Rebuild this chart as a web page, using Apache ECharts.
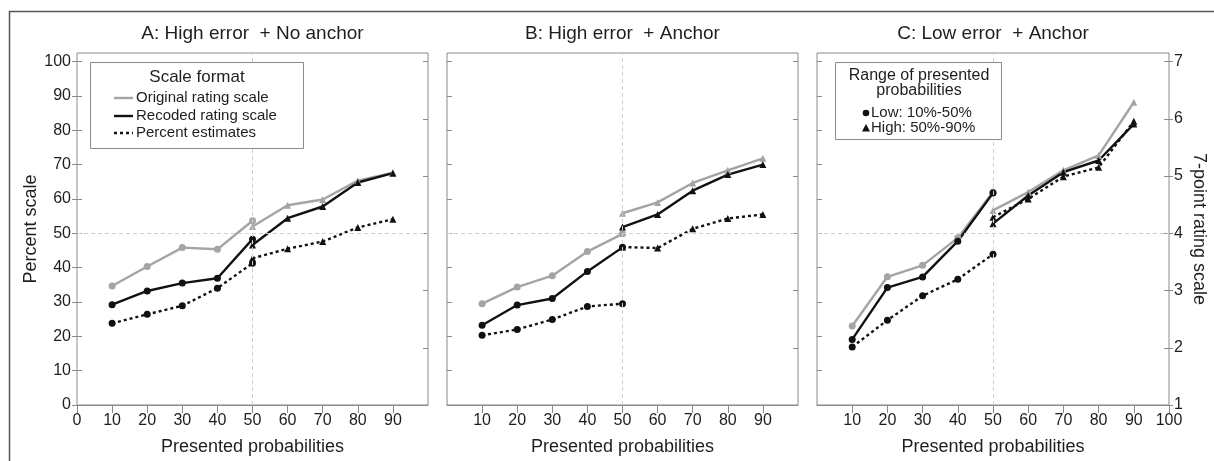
<!DOCTYPE html>
<html>
<head>
<meta charset="utf-8">
<script src="https://cdn.jsdelivr.net/npm/echarts@6/dist/echarts.min.js"></script>
<style>
  html, body { margin: 0; padding: 0; background: #fff; }
  #chart { width: 1214px; height: 461px; }
</style>
</head>
<body>
<div id="chart"></div>
<script>
// ---- data ----------------------------------------------------------------
const panelTitles = ['A: High error  + No anchor', 'B: High error  + Anchor', 'C: Low error  + Anchor'];
const probsLow = [10, 20, 30, 40, 50];
const probsHigh = [50, 60, 70, 80, 90];

const percentTicks = [0, 10, 20, 30, 40, 50, 60, 70, 80, 90, 100];
const ratingTicks = [1, 2, 3, 4, 5, 6, 7];
const xTicksA = [0, 10, 20, 30, 40, 50, 60, 70, 80, 90];
const xTicksB = [10, 20, 30, 40, 50, 60, 70, 80, 90];
const xTicksC = [10, 20, 30, 40, 50, 60, 70, 80, 90, 100];
const referenceLevel = 50;

// Panel A: high error, no anchor
const originalLowA  = [3.08, 3.42, 3.75, 3.72, 4.22];   // 7-point scale
const originalHighA = [4.12, 4.49, 4.59, 4.92, 5.06];
const recodedLowA   = [29.2, 33.2, 35.5, 36.9, 48.3];   // percent scale
const recodedHighA  = [46.6, 54.4, 57.8, 64.8, 67.5];
const percentLowA   = [23.8, 26.4, 28.9, 34.0, 41.3];
const percentHighA  = [42.7, 45.5, 47.6, 51.7, 54.1];

// Panel B: high error, anchor
const originalLowB  = [2.77, 3.06, 3.26, 3.68, 3.99];
const originalHighB = [4.35, 4.54, 4.88, 5.10, 5.31];
const recodedLowB   = [23.2, 29.1, 31.0, 38.9, 45.9];
const recodedHighB  = [51.8, 55.5, 62.4, 67.1, 70.0];
const percentLowB   = [20.3, 22.0, 24.9, 28.7, 29.5];
const percentHighB  = [46.0, 45.7, 51.3, 54.3, 55.5];

// Panel C: low error, anchor
const originalLowC  = [2.38, 3.24, 3.44, 3.92, 4.72];
const originalHighC = [4.40, 4.72, 5.10, 5.36, 6.29];
const recodedLowC   = [19.1, 34.2, 37.3, 47.7, 61.7];
const recodedHighC  = [52.8, 61.0, 67.8, 71.2, 81.8];
const percentLowC   = [16.9, 24.7, 31.8, 36.6, 43.9];
const percentHighC  = [54.7, 60.0, 66.5, 69.2, 82.6];

// ---- styling -------------------------------------------------------------
const FONT = '"Liberation Sans", Arial, Helvetica, sans-serif';
const GREY = '#a4a4a4';
const BLACK = '#111111';
const AXIS = '#8a8a8a';
const TEXT = '#1e1e1e';
const GRID_TOP = 53, GRID_HEIGHT = 352;
const PCT_MAX = 102.5;
const RATE_MAX = 1 + 6 * PCT_MAX / 100;   // keeps 1..7 aligned with 0..100

const panels = [
  { left: 77,  width: 351, xTicks: xTicksA,
    orig: [originalLowA, originalHighA], rec: [recodedLowA, recodedHighA], pct: [percentLowA, percentHighA] },
  { left: 447, width: 351, xTicks: xTicksB,
    orig: [originalLowB, originalHighB], rec: [recodedLowB, recodedHighB], pct: [percentLowB, percentHighB] },
  { left: 817, width: 352, xTicks: xTicksC,
    orig: [originalLowC, originalHighC], rec: [recodedLowC, recodedHighC], pct: [percentLowC, percentHighC] }
];

const pairs = (xs, ys) => xs.map((x, i) => [x, ys[i]]);

const grids = [], xAxes = [], yAxes = [], series = [], titles = [];

panels.forEach((p, k) => {
  grids.push({
    left: p.left, top: GRID_TOP, width: p.width, height: GRID_HEIGHT,
    show: true, borderColor: AXIS, borderWidth: 1, outerBoundsMode: 'none'
  });

  titles.push({
    text: panelTitles[k], left: p.left + p.width / 2, top: 24, padding: 0,
    textAlign: 'center',
    textStyle: { fontFamily: FONT, fontSize: 19, fontWeight: 'normal', color: TEXT }
  });

  xAxes.push({
    gridIndex: k, type: 'value', min: 0, max: 100,
    axisLine: { show: true, lineStyle: { color: AXIS, width: 1 } },
    axisTick: { show: true, inside: false, length: 8, customValues: p.xTicks, lineStyle: { color: AXIS } },
    axisLabel: { show: true, customValues: p.xTicks, margin: 8, fontFamily: FONT, fontSize: 16, color: TEXT },
    splitLine: { show: false },
    name: 'Presented probabilities', nameLocation: 'middle', nameGap: 33,
    nameTextStyle: { fontFamily: FONT, fontSize: 18, color: TEXT }
  });

  // inner ticks on both sides of each panel
  const pctIdx = yAxes.length;
  yAxes.push({
    gridIndex: k, type: 'value', min: 0, max: PCT_MAX, position: 'left',
    axisLine: { show: false },
    axisTick: { show: true, inside: true, length: 5, customValues: percentTicks, lineStyle: { color: AXIS } },
    axisLabel: { show: false }, splitLine: { show: false }
  });
  const rateIdx = yAxes.length;
  yAxes.push({
    gridIndex: k, type: 'value', min: 1, max: RATE_MAX, position: 'right',
    axisLine: { show: false },
    axisTick: { show: true, inside: true, length: 5, customValues: ratingTicks, lineStyle: { color: AXIS } },
    axisLabel: { show: false }, splitLine: { show: false }
  });

  if (k === 0) {
    yAxes.push({
      gridIndex: k, type: 'value', min: 0, max: PCT_MAX, position: 'left',
      axisLine: { show: false },
      axisTick: { show: true, inside: false, length: 5, customValues: percentTicks, lineStyle: { color: AXIS } },
      axisLabel: { show: true, customValues: percentTicks, margin: 6, fontFamily: FONT, fontSize: 16, color: TEXT },
      splitLine: { show: false },
      name: 'Percent scale', nameLocation: 'middle', nameGap: 37, nameRotate: 90,
      nameTextStyle: { fontFamily: FONT, fontSize: 18, color: TEXT }
    });
  }
  if (k === 2) {
    yAxes.push({
      gridIndex: k, type: 'value', min: 1, max: RATE_MAX, position: 'right',
      axisLine: { show: false },
      axisTick: { show: true, inside: false, length: 4, customValues: ratingTicks, lineStyle: { color: AXIS } },
      axisLabel: { show: true, customValues: ratingTicks, margin: 5, fontFamily: FONT, fontSize: 16, color: TEXT },
      splitLine: { show: false },
      name: '7-point rating scale', nameLocation: 'middle', nameGap: 21, nameRotate: -90,
      nameTextStyle: { fontFamily: FONT, fontSize: 18, color: TEXT }
    });
  }

  // dashed reference lines at 50 %
  series.push({
    type: 'line', xAxisIndex: k, yAxisIndex: pctIdx, data: [], z: 1, silent: true,
    markLine: {
      silent: true, symbol: 'none', animation: false, label: { show: false },
      lineStyle: { color: '#cfcfcf', type: [4, 3], width: 1 },
      data: [{ xAxis: referenceLevel }, { yAxis: referenceLevel }]
    }
  });

  const addLine = (xs, ys, yIdx, color, dotted, symbol) => {
    series.push({
      type: 'line', xAxisIndex: k, yAxisIndex: yIdx, data: pairs(xs, ys), z: 3,
      symbol: symbol, symbolSize: symbol === 'triangle' ? 7 : 7,
      showSymbol: true, silent: true,
      lineStyle: { color: color, width: 2.4, type: dotted ? [3, 3] : 'solid' },
      itemStyle: { color: color, borderWidth: 0 }
    });
  };

  addLine(probsLow,  p.orig[0], rateIdx, GREY, false, 'circle');
  addLine(probsHigh, p.orig[1], rateIdx, GREY, false, 'triangle');
  addLine(probsLow,  p.rec[0],  pctIdx,  BLACK, false, 'circle');
  addLine(probsHigh, p.rec[1],  pctIdx,  BLACK, false, 'triangle');
  addLine(probsLow,  p.pct[0],  pctIdx,  BLACK, true, 'circle');
  addLine(probsHigh, p.pct[1],  pctIdx,  BLACK, true, 'triangle');
});

// ---- legends and frame ----------------------------------------------------
const txt = (x, y, s, size, align) => ({
  type: 'text', x: x, y: y, z: 20,
  style: { text: s, fontFamily: FONT, fontSize: size, fill: TEXT, align: align || 'left', verticalAlign: 'middle' }
});
const seg = (x1, y, x2, color, dash) => ({
  type: 'line', z: 20,
  shape: { x1: x1, y1: y, x2: x2, y2: y },
  style: { stroke: color, lineWidth: 2.4, lineDash: dash || null }
});

const graphics = [
  { type: 'rect', z: 0, shape: { x: 9.5, y: 11.5, width: 1230, height: 480 },
    style: { fill: 'none', stroke: '#555', lineWidth: 1.5 } },

  // legend: scale format
  { type: 'rect', z: 19, shape: { x: 90.5, y: 62.5, width: 213, height: 86 },
    style: { fill: '#fff', stroke: AXIS, lineWidth: 1 } },
  txt(197, 77, 'Scale format', 17, 'center'),
  seg(114, 98, 133, GREY),
  seg(114, 116, 133, BLACK),
  seg(114, 133, 133, BLACK, [3, 3]),
  txt(136, 98, 'Original rating scale', 15),
  txt(136, 116, 'Recoded rating scale', 15),
  txt(136, 133, 'Percent estimates', 15),

  // legend: range of presented probabilities
  { type: 'rect', z: 19, shape: { x: 835.5, y: 62.5, width: 166, height: 77 },
    style: { fill: '#fff', stroke: AXIS, lineWidth: 1 } },
  txt(919, 76, 'Range of presented', 16, 'center'),
  txt(919, 91, 'probabilities', 16, 'center'),
  { type: 'circle', z: 20, shape: { cx: 866, cy: 113, r: 3.3 }, style: { fill: BLACK } },
  { type: 'polygon', z: 20, shape: { points: [[866, 124], [870, 131.5], [862, 131.5]] }, style: { fill: BLACK } },
  txt(871, 113, 'Low: 10%-50%', 15),
  txt(871, 128, 'High: 50%-90%', 15)
];

const chart = echarts.init(document.getElementById('chart'), null, { renderer: 'canvas' });
chart.setOption({
  animation: false,
  backgroundColor: '#fff',
  textStyle: { fontFamily: FONT },
  title: titles,
  grid: grids,
  xAxis: xAxes,
  yAxis: yAxes,
  series: series,
  graphic: graphics
});
</script>
</body>
</html>
